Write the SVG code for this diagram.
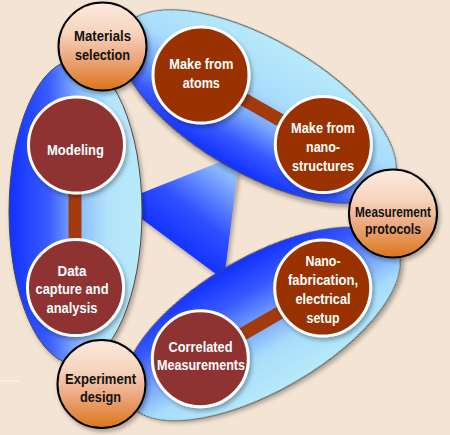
<svg xmlns="http://www.w3.org/2000/svg" width="450" height="435" viewBox="0 0 450 435">
<defs>
<filter id="sh" x="-20%" y="-20%" width="140%" height="140%">
<feDropShadow dx="2" dy="3" stdDeviation="2" flood-color="#000" flood-opacity="0.3"/>
</filter>
<linearGradient id="gLeft" x1="0" y1="0" x2="1" y2="0">
<stop offset="0" stop-color="#1030FF"/>
<stop offset="0.3" stop-color="#3A5CFF"/>
<stop offset="0.55" stop-color="#8FC2FC"/>
<stop offset="0.75" stop-color="#B3E5FA"/>
<stop offset="1" stop-color="#B8EAFA"/>
</linearGradient>
<linearGradient id="gTop" x1="0" y1="0" x2="0" y2="1">
<stop offset="0" stop-color="#B8EAFA"/>
<stop offset="0.4" stop-color="#A8DCFB"/>
<stop offset="0.6" stop-color="#7AA8FD"/>
<stop offset="0.8" stop-color="#3858FF"/>
<stop offset="1" stop-color="#1030FF"/>
</linearGradient>
<linearGradient id="gBot" x1="0" y1="0" x2="0" y2="1">
<stop offset="0" stop-color="#1030FF"/>
<stop offset="0.25" stop-color="#3858FF"/>
<stop offset="0.5" stop-color="#7AA8FD"/>
<stop offset="0.7" stop-color="#A8DCFB"/>
<stop offset="1" stop-color="#B8EAFA"/>
</linearGradient>
<linearGradient id="gTri" gradientUnits="userSpaceOnUse" x1="175" y1="245" x2="240" y2="160">
<stop offset="0" stop-color="#1232FF"/>
<stop offset="0.35" stop-color="#3050FF"/>
<stop offset="1" stop-color="#B0E2FC"/>
</linearGradient>
<linearGradient id="gOr" x1="0" y1="0" x2="0" y2="1">
<stop offset="0" stop-color="#FCEADE"/>
<stop offset="0.35" stop-color="#F6D3BC"/>
<stop offset="0.65" stop-color="#EBA57A"/>
<stop offset="1" stop-color="#DC7518"/>
</linearGradient>
<style>
.blob{stroke:#4a4a4a;stroke-width:1;filter:url(#sh)}
.link{stroke:#A23A0E;stroke-width:13;stroke-linecap:butt}
.orange{fill:url(#gOr);stroke:#000;stroke-width:2;filter:url(#sh)}
.maroon{fill:#8E3333;stroke:#fff;stroke-width:3;filter:url(#sh)}
.rust{fill:#993300;stroke:#fff;stroke-width:3;filter:url(#sh)}
text{font-family:"Liberation Sans Narrow","Liberation Sans",Arial,sans-serif;font-weight:bold;font-size:15.5px;text-anchor:middle}
.dk{fill:#111}
.wt{fill:#fff}
</style>
</defs>
<rect width="450" height="435" fill="#F4E4D4"/>
<line x1="0" y1="381" x2="19" y2="381" stroke="#FDF6EE" stroke-width="1"/>
<g id="backdrop">
<polygon points="119,202 240,154 224,280" fill="url(#gTri)" filter="url(#sh)"/>
<ellipse class="blob" cx="75.5" cy="212" rx="66.5" ry="152" fill="url(#gLeft)"/>
<ellipse class="blob" cx="0" cy="0" rx="155" ry="67" transform="translate(258,106.5) rotate(30)" fill="url(#gTop)"/>
<ellipse class="blob" cx="0" cy="0" rx="155" ry="67" transform="translate(262,324) rotate(-30)" fill="url(#gBot)"/>
</g>
<g id="connectors">
<line class="link" x1="75" y1="145" x2="75" y2="287"/>
<line class="link" x1="201" y1="75" x2="323" y2="144.5"/>
<line class="link" x1="200.5" y1="358.5" x2="322.5" y2="288"/>
</g>
<g id="modeling">
<circle class="maroon" cx="76.5" cy="145" r="48"/>
<text class="wt" x="75.5" y="154.5" textLength="57" lengthAdjust="spacingAndGlyphs">Modeling</text>
</g>
<g id="data-capture">
<circle class="maroon" cx="75.5" cy="287.5" r="48"/>
<text class="wt" x="72" y="275.5" textLength="29" lengthAdjust="spacingAndGlyphs">Data</text>
<text class="wt" x="72" y="294" textLength="73" lengthAdjust="spacingAndGlyphs">capture and</text>
<text class="wt" x="72" y="312.5" textLength="51" lengthAdjust="spacingAndGlyphs">analysis</text>
</g>
<g id="make-from-atoms">
<circle class="rust" cx="201" cy="75" r="48"/>
<text class="wt" x="201.3" y="69.3" textLength="64" lengthAdjust="spacingAndGlyphs">Make from</text>
<text class="wt" x="201.3" y="88.3" textLength="37" lengthAdjust="spacingAndGlyphs">atoms</text>
</g>
<g id="make-from-nanostructures">
<circle class="rust" cx="323.3" cy="144.5" r="48"/>
<text class="wt" x="323" y="133.3" textLength="64" lengthAdjust="spacingAndGlyphs">Make from</text>
<text class="wt" x="323" y="151.7" textLength="34" lengthAdjust="spacingAndGlyphs">nano-</text>
<text class="wt" x="323" y="170.7" textLength="62" lengthAdjust="spacingAndGlyphs">structures</text>
</g>
<g id="nano-fabrication">
<circle class="rust" cx="322.7" cy="288" r="48"/>
<text class="wt" x="323" y="266" textLength="35" lengthAdjust="spacingAndGlyphs">Nano-</text>
<text class="wt" x="323" y="285" textLength="70" lengthAdjust="spacingAndGlyphs">fabrication,</text>
<text class="wt" x="323" y="304" textLength="55" lengthAdjust="spacingAndGlyphs">electrical</text>
<text class="wt" x="323" y="322.5" textLength="33" lengthAdjust="spacingAndGlyphs">setup</text>
</g>
<g id="correlated-measurements">
<circle class="maroon" cx="200.3" cy="358.7" r="48"/>
<text class="wt" x="200.5" y="351.5" textLength="64" lengthAdjust="spacingAndGlyphs">Correlated</text>
<text class="wt" x="201" y="370" textLength="88" lengthAdjust="spacingAndGlyphs">Measurements</text>
</g>
<g id="materials-selection">
<circle class="orange" cx="102.5" cy="46.5" r="44"/>
<text class="dk" x="102.5" y="41.3" textLength="57" lengthAdjust="spacingAndGlyphs">Materials</text>
<text class="dk" x="102.5" y="60" textLength="55" lengthAdjust="spacingAndGlyphs">selection</text>
</g>
<g id="measurement-protocols">
<circle class="orange" cx="393" cy="213.5" r="44"/>
<text class="dk" x="393" y="216.5" textLength="76" lengthAdjust="spacingAndGlyphs" style="font-size:15px">Measurement</text>
<text class="dk" x="393" y="233.5" textLength="56" lengthAdjust="spacingAndGlyphs">protocols</text>
</g>
<g id="experiment-design">
<circle class="orange" cx="101.5" cy="384" r="44"/>
<text class="dk" x="100.5" y="383.5" textLength="71" lengthAdjust="spacingAndGlyphs">Experiment</text>
<text class="dk" x="100.5" y="401.5" textLength="41" lengthAdjust="spacingAndGlyphs">design</text>
</g>
</svg>
